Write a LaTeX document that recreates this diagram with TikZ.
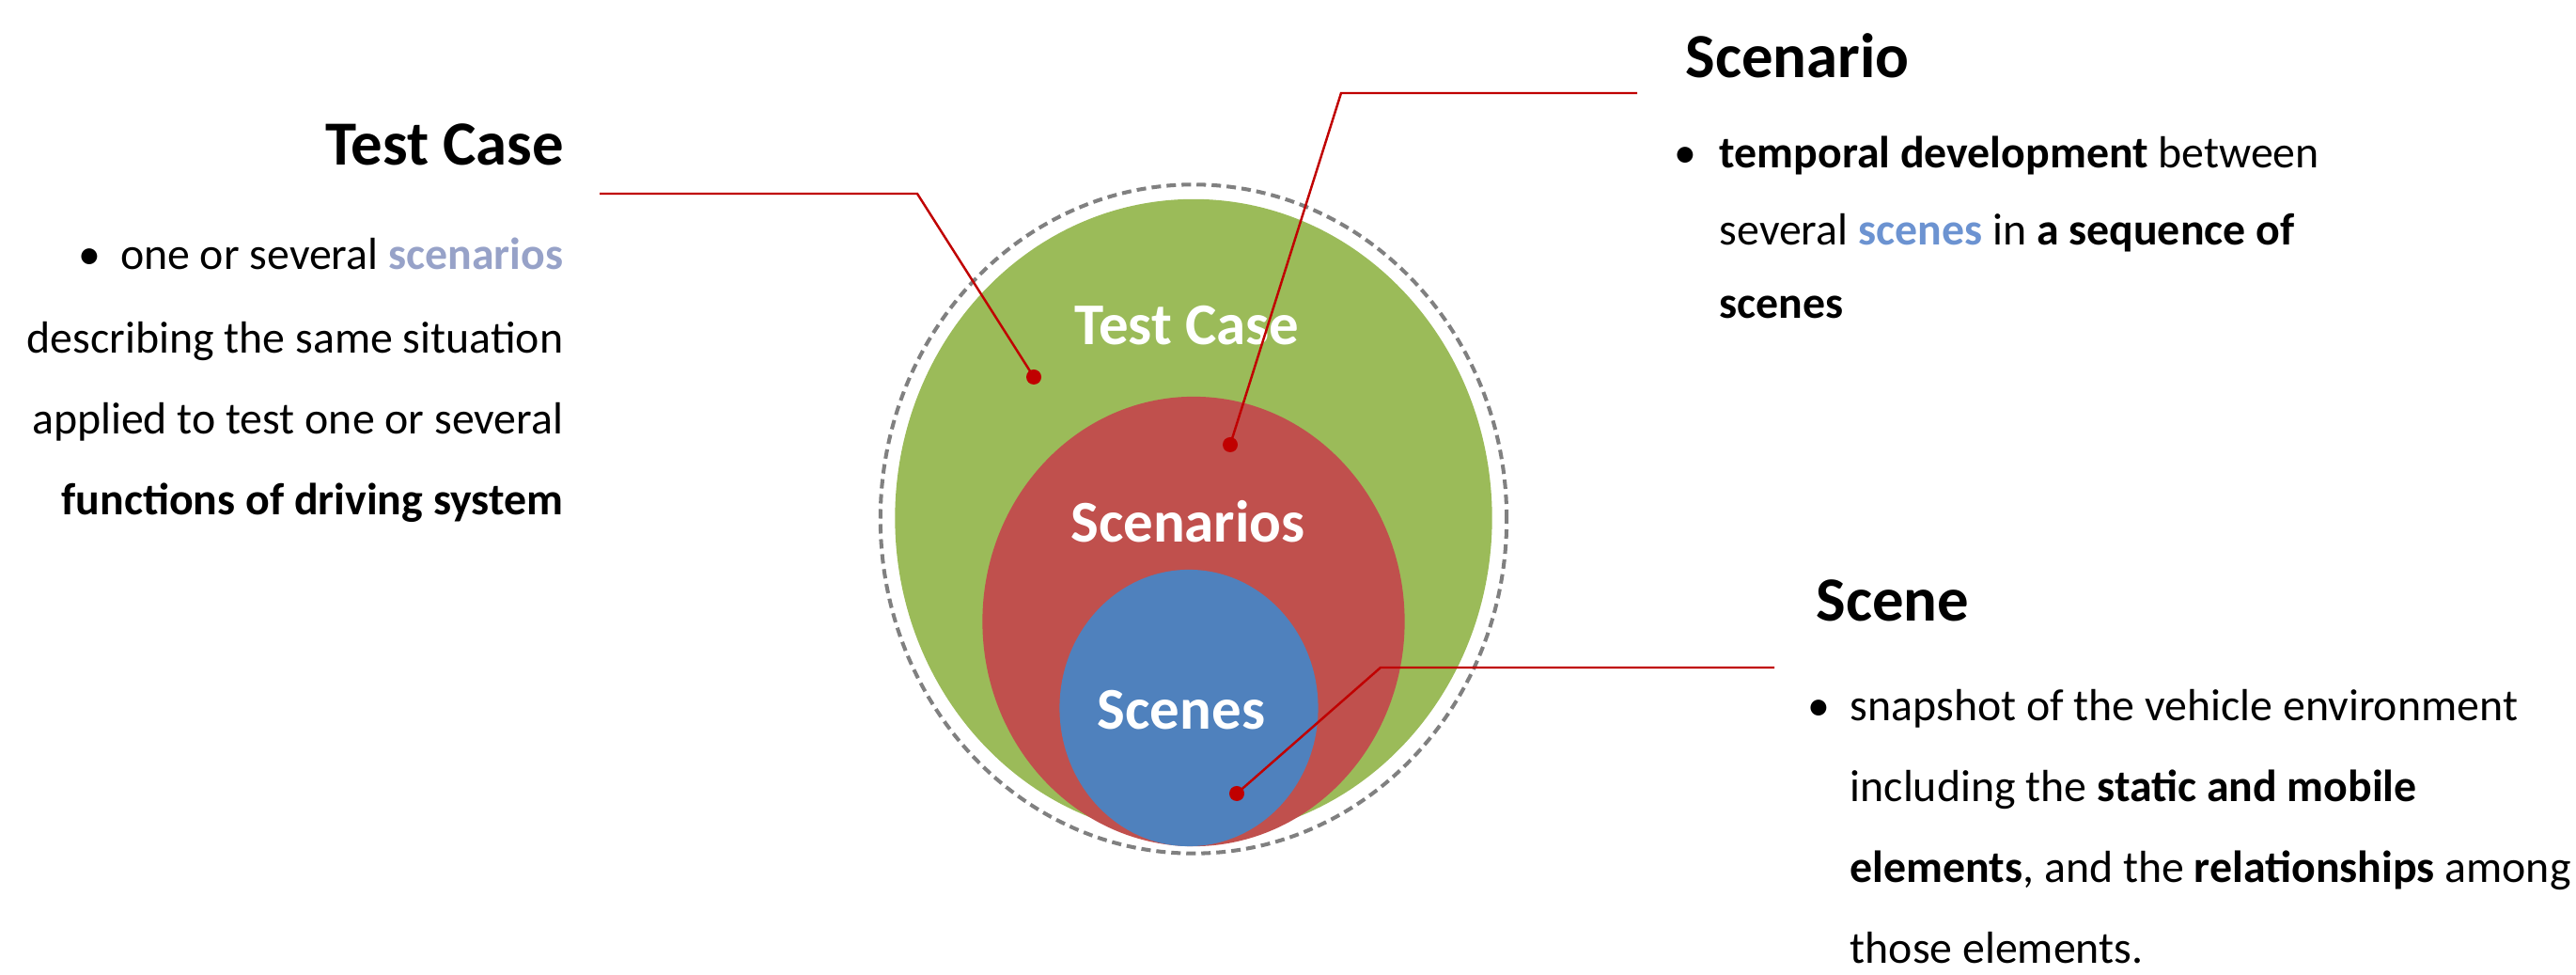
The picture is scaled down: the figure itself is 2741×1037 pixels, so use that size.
\documentclass[tikz,border=0pt]{standalone}
\usepackage{fontspec}
\setmainfont{Carlito}
\usepackage{tikz}
\definecolor{tcgreen}{HTML}{9BBB59}
\definecolor{scred}{HTML}{C0504D}
\definecolor{snblue}{HTML}{4F81BD}
\definecolor{leadred}{HTML}{C00000}
\definecolor{ringgray}{HTML}{808080}
\definecolor{scnword}{HTML}{97A2C8}
\definecolor{snword}{HTML}{6C93D1}
\newcommand{\headfont}{\fontsize{19pt}{22pt}\selectfont\bfseries}
\newcommand{\bodyfont}{\fontsize{13.6pt}{16pt}\selectfont}
\newcommand{\ringfont}{\fontsize{17.9pt}{21pt}\selectfont\bfseries\color{white}}

\begin{document}
\begin{tikzpicture}[x=0.01cm, y=-0.01cm,
    lead/.style={leadred, line width=0.7pt},
    dot/.style={circle, fill=leadred, inner sep=0pt, minimum size=0.16cm},
    lw/.style={anchor=base west, inner sep=0pt},
    le/.style={anchor=base east, inner sep=0pt}]
                    \useasboundingbox (0,0) rectangle (2741,1037);
                    \draw[ringgray, line width=1.15pt, dash pattern=on 2.85pt off 1.7pt] (1270,552) ellipse [x radius=3.33cm, y radius=3.555cm];
                    \fill[tcgreen] (1270,551) ellipse [x radius=3.175cm, y radius=3.39cm];
                    \fill[scred] (1270,661) ellipse [x radius=2.245cm, y radius=2.39cm];
                    \fill[snblue] (1265,753) ellipse [x radius=1.375cm, y radius=1.47cm];
                    \node[anchor=base, inner sep=0pt] (tclabel) at (1263,367) {\ringfont Test Case};
                    \node[anchor=base, inner sep=0pt] (sclabel) at (1264,577) {\ringfont Scenarios};
                    \node[anchor=base, inner sep=0pt] (snlabel) at (1257,776) {\ringfont Scenes};
                    \node[le] (tchead) at (601,176) {\headfont Test Case};
                    \node[le] (tcl1) at (600,287) {\bodyfont \textbullet\hspace{6pt}one or several \textcolor{scnword}{\bfseries scenarios}};
                    \node[le] (tcl2) at (600,376) {\bodyfont describing the same situation};
                    \node[le] (tcl3) at (600,462) {\bodyfont applied to test one or several};
                    \node[le] (tcl4) at (600,548) {\bodyfont\bfseries functions of driving system};
                    \node[lw] (schead) at (1793,83) {\headfont Scenario};
                    \node[le] (scbullet) at (1806,179) {\bodyfont \textbullet};
                    \node[lw] (scl1) at (1829,179) {\bodyfont \textbf{temporal development} between};
                    \node[lw] (scl2) at (1829,261) {\bodyfont several \textcolor{snword}{\bfseries scenes} in \textbf{a sequence of}};
                    \node[lw] (scl3) at (1829,339) {\bodyfont\bfseries scenes};
                    \node[lw] (snhead) at (1932,661) {\headfont Scene};
                    \node[le] (snbullet) at (1948,767) {\bodyfont \textbullet};
                    \node[lw] (snl1) at (1968,767) {\bodyfont snapshot of the vehicle environment};
                    \node[lw] (snl2) at (1968,853) {\bodyfont including the \textbf{static and mobile}};
                    \node[lw] (snl3) at (1968,939) {\bodyfont \textbf{elements}, and the \textbf{relationships} among};
                    \node[lw] (snl4) at (1968,1025) {\bodyfont those elements.};
                    \node[dot] (tcdot) at (1100,401) {};
                    \node[dot] (scdot) at (1309,473) {};
                    \node[dot] (sndot) at (1316,844) {};
                    \coordinate (tcend) at (638,206);
                    \coordinate (tcbend) at (976,206);
                    \coordinate (scbend) at (1427,99);
                    \coordinate (scend) at (1742,99);
                    \coordinate (snbend) at (1469,710);
                    \coordinate (snend) at (1888,710);
                    \draw[lead] (tcend) -- (tcbend) -- (tcdot.center);
                    \draw[lead] (scend) -- (scbend) -- (scdot.center);
                    \draw[lead] (snend) -- (snbend) -- (sndot.center);
                \end{tikzpicture}
\end{document}
